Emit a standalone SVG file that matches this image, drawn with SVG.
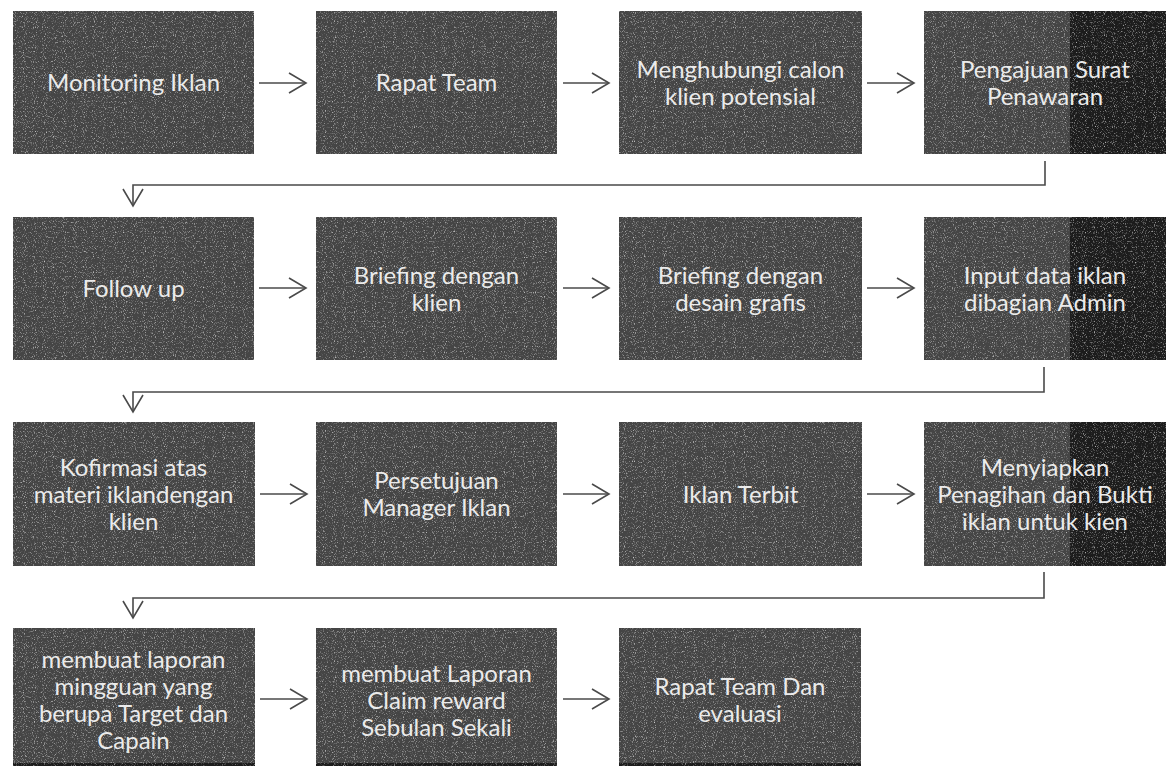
<svg xmlns="http://www.w3.org/2000/svg" width="1168" height="766" viewBox="0 0 1168 766">
<style>
.box{fill:#454545;filter:url(#grain)}
.dark{fill:#1c1c1c;filter:url(#grain)}
.lbl{font-family:Lato,"Open Sans","Liberation Sans",sans-serif;font-size:24px;fill:#ebebeb;text-anchor:middle}
.con{fill:none;stroke:#4a4a4a;stroke-width:1.6;marker-end:url(#arr)}
</style>
<defs>
<filter id="grain" x="0" y="0" width="1" height="1" color-interpolation-filters="sRGB">
<feTurbulence type="fractalNoise" baseFrequency="1.1 0.8" numOctaves="1" seed="7" result="noise"/>
<feColorMatrix in="noise" type="matrix" values="0 0 0 0 1 0 0 0 0 1 0 0 0 0 1 2.4 0 0 0 -1.3" result="spk"/>
<feComposite in="spk" in2="SourceGraphic" operator="in" result="spk2"/>
<feMerge><feMergeNode in="SourceGraphic"/><feMergeNode in="spk2"/></feMerge>
</filter>
<marker id="arr" viewBox="0 0 20 22" refX="18" refY="11" markerWidth="20" markerHeight="22" markerUnits="userSpaceOnUse" orient="auto">
<path d="M1,1 L18,11 L1,21" fill="none" stroke="#4a4a4a" stroke-width="1.6"/>
</marker>
</defs>
<rect width="1168" height="766" fill="#ffffff"/>

<g id="n1"><rect class="box" x="13" y="11" width="241" height="143"/><text class="lbl" x="133.5" y="91">Monitoring Iklan</text></g>
<g id="n2"><rect class="box" x="316" y="11" width="241" height="143"/><text class="lbl" x="436.5" y="91">Rapat Team</text></g>
<g id="n3"><rect class="box" x="619" y="11" width="243" height="143"/><text class="lbl" x="740.5" y="77.5">Menghubungi  calon</text><text class="lbl" x="740.5" y="104.5">klien potensial</text></g>
<g id="n4"><rect class="box" x="924" y="11" width="242" height="143"/><rect class="dark" x="1070" y="11" width="96" height="143"/><text class="lbl" x="1045" y="77.5">Pengajuan Surat</text><text class="lbl" x="1045" y="104.5">Penawaran</text></g>

<g id="n5"><rect class="box" x="13" y="217" width="241" height="143"/><text class="lbl" x="133.5" y="297">Follow up</text></g>
<g id="n6"><rect class="box" x="316" y="217" width="241" height="143"/><text class="lbl" x="436.5" y="283.5">Briefing dengan</text><text class="lbl" x="436.5" y="310.5">klien</text></g>
<g id="n7"><rect class="box" x="619" y="217" width="243" height="143"/><text class="lbl" x="740.5" y="283.5">Briefing dengan</text><text class="lbl" x="740.5" y="310.5">desain grafis</text></g>
<g id="n8"><rect class="box" x="924" y="217" width="242" height="143"/><rect class="dark" x="1070" y="217" width="96" height="143"/><text class="lbl" x="1045" y="283.5">Input data iklan</text><text class="lbl" x="1045" y="310.5">dibagian Admin</text></g>

<g id="n9"><rect class="box" x="13" y="422" width="242" height="144"/><text class="lbl" x="133.5" y="475.5">Kofirmasi atas</text><text class="lbl" x="133.5" y="502.5">materi iklandengan</text><text class="lbl" x="133.5" y="529.5">klien</text></g>
<g id="n10"><rect class="box" x="316" y="422" width="241" height="144"/><text class="lbl" x="436.5" y="488.5">Persetujuan</text><text class="lbl" x="436.5" y="515.5">Manager Iklan</text></g>
<g id="n11"><rect class="box" x="619" y="422" width="243" height="144"/><text class="lbl" x="740.5" y="502.5">Iklan Terbit</text></g>
<g id="n12"><rect class="box" x="924" y="422" width="242" height="144"/><rect class="dark" x="1070" y="422" width="96" height="144"/><text class="lbl" x="1045" y="475.5">Menyiapkan</text><text class="lbl" x="1045" y="502.5">Penagihan dan Bukti</text><text class="lbl" x="1045" y="529.5">iklan untuk kien</text></g>

<g id="n13"><rect class="box" x="13" y="628" width="242" height="138"/><rect class="dark" x="13" y="763" width="242" height="3"/><text class="lbl" x="133.5" y="668">membuat laporan</text><text class="lbl" x="133.5" y="695">mingguan yang</text><text class="lbl" x="133.5" y="722">berupa Target dan</text><text class="lbl" x="133.5" y="749">Capain</text></g>
<g id="n14"><rect class="box" x="316" y="628" width="241" height="138"/><rect class="dark" x="316" y="763" width="241" height="3"/><text class="lbl" x="436.5" y="681.5">membuat Laporan</text><text class="lbl" x="436.5" y="708.5">Claim reward</text><text class="lbl" x="436.5" y="735.5">Sebulan Sekali</text></g>
<g id="n15"><rect class="box" x="619" y="628" width="242" height="138"/><rect class="dark" x="619" y="763" width="242" height="3"/><text class="lbl" x="740" y="695">Rapat Team Dan</text><text class="lbl" x="740" y="722">evaluasi</text></g>

<g id="connectors">
<path class="con" d="M259,83 H306"/>
<path class="con" d="M563,83 H609"/>
<path class="con" d="M867,83 H914"/>
<path class="con" d="M1045,161 V185 H133 V206"/>
<path class="con" d="M259,288 H306"/>
<path class="con" d="M563,288 H609"/>
<path class="con" d="M867,288 H914"/>
<path class="con" d="M1044,367 V392 H133 V412"/>
<path class="con" d="M260,494 H307"/>
<path class="con" d="M563,494 H609"/>
<path class="con" d="M867,494 H914"/>
<path class="con" d="M1044,572 V598 H133 V618"/>
<path class="con" d="M260,699 H307"/>
<path class="con" d="M563,699 H609"/>
</g>
</svg>
